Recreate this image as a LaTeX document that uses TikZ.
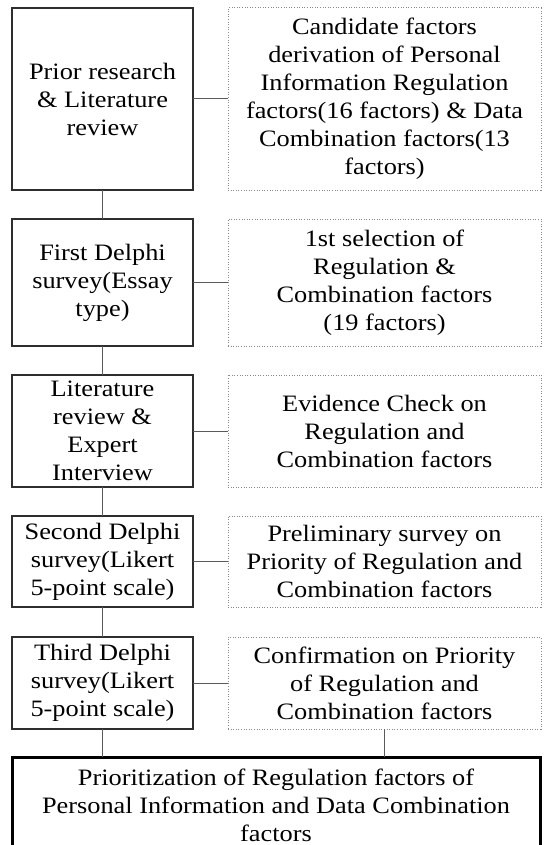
\documentclass[tikz,border=0pt]{standalone}
\usepackage{fontspec}
\setmainfont{Liberation Serif}[FakeStretch=1.12]
\usetikzlibrary{positioning}
\definecolor{stagedark}{HTML}{2E2E2E}
\definecolor{linkgray}{HTML}{5A5A5A}
\definecolor{dotgray}{HTML}{8A8A8A}

\begin{document}
\begin{tikzpicture}[
  x=1pt, y=-1pt,
  stage/.style={
    rectangle, draw=stagedark, line width=1.2pt,
    minimum width=181pt, inner sep=2pt, outer sep=0pt,
    align=center, font=\fontsize{23.5}{28}\selectfont
  },
  outcome/.style={
    rectangle, draw=dotgray, line width=1pt,
    dash pattern=on 1pt off 1.6pt,
    minimum width=313pt, inner sep=2pt, outer sep=0pt,
    align=center, font=\fontsize{23.5}{28}\selectfont
  },
  finalbox/.style={
    rectangle, draw=black, line width=3pt,
    minimum width=528pt, minimum height=96pt, outer sep=0pt,
    align=center, font=\fontsize{23.5}{28}\selectfont
  },
  link/.style={line width=1pt, linkgray}
]
  \clip (0,0) rectangle (543,845);

  % Research stages (left column)
  \node[stage, minimum height=182pt] (prior) at (102.5,99)
    {Prior research\\\& Literature\\review};
  \node[stage, minimum height=127pt] (delphiA) at (102.5,282.5)
    {First Delphi\\survey(Essay\\type)};
  \node[stage, minimum height=112pt] (litexp) at (102.5,431)
    {Literature\\review \&\\Expert\\Interview};
  \node[stage, minimum height=91pt] (delphiB) at (102.5,561.5)
    {Second Delphi\\survey(Likert\\5-point scale)};
  \node[stage, minimum height=92pt] (delphiC) at (102.5,683)
    {Third Delphi\\survey(Likert\\5-point scale)};

  % Results of each stage (right column)
  \node[outcome, minimum height=182pt] (cand) at (384.5,99)
    {Candidate factors\\derivation of Personal\\Information Regulation\\factors(16 factors) \& Data\\Combination factors(13\\factors)};
  \node[outcome, minimum height=127pt] (selA) at (384.5,282.5)
    {1st selection of\\Regulation \&\\Combination factors\\(19 factors)};
  \node[outcome, minimum height=112pt] (evid) at (384.5,431)
    {Evidence Check on\\Regulation and\\Combination factors};
  \node[outcome, minimum height=91pt] (prelim) at (384.5,561.5)
    {Preliminary survey on\\Priority of Regulation and\\Combination factors};
  \node[outcome, minimum height=92pt] (confirm) at (384.5,683)
    {Confirmation on Priority\\of Regulation and\\Combination factors};

  % Final result
  \node[finalbox, anchor=north] (final) at (276,757)
    {Prioritization of Regulation factors of\\Personal Information and Data Combination\\factors};

  % Connectors
  \draw[link] (prior) -- (cand);
  \draw[link] (delphiA) -- (selA);
  \draw[link] (litexp) -- (evid);
  \draw[link] (delphiB) -- (prelim);
  \draw[link] (delphiC) -- (confirm);
  \draw[link] (prior) -- (delphiA);
  \draw[link] (delphiA) -- (litexp);
  \draw[link] (litexp) -- (delphiB);
  \draw[link] (delphiB) -- (delphiC);
  \draw[link] (delphiC.south) -- (delphiC.south |- final.north);
  \draw[link] (confirm.south) -- (confirm.south |- final.north);
\end{tikzpicture}
\end{document}
